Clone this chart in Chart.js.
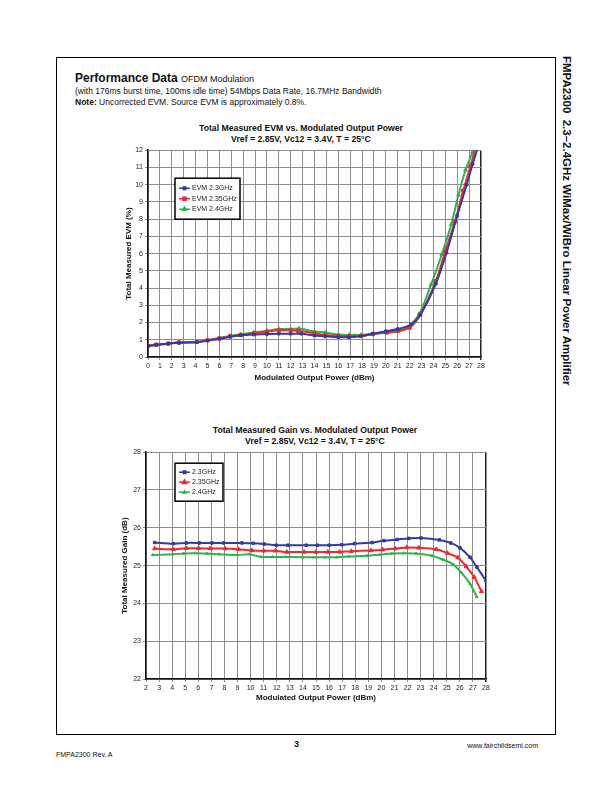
<!DOCTYPE html>
<html>
<head>
<meta charset="utf-8">
<script src="https://cdn.jsdelivr.net/npm/chart.js"></script>
<style>
    body { margin: 0; background: #fff; }
    #page { position: relative; width: 612px; height: 792px; background: #fff; font-family: 'Liberation Sans', Arial, sans-serif; color: #111; }
    .abs { position: absolute; white-space: nowrap; }
    #frame { position: absolute; left: 56px; top: 57px; width: 498px; height: 676px; border: 1px solid #000; }
    .ctitle { position: absolute; font-weight: bold; font-size: 8.7px; text-align: center; width: 300px; line-height: 11px; }
    #side { position: absolute; left: 561px; top: 56px; writing-mode: vertical-rl; font-weight: bold; font-size: 11.5px; white-space: nowrap; }
    canvas { position: absolute; }
</style>
</head>
<body>
<div id="page">
    <div id="frame"></div>
    <div class="abs" style="left:75px; top:71px; font-size:12px;"><b>Performance Data</b> <span style="font-size:9px;">OFDM Modulation</span></div>
    <div class="abs" style="left:75px; top:86px; font-size:8.5px;">(with 176ms burst time, 100ms idle time) 54Mbps Data Rate, 16.7MHz Bandwidth</div>
    <div class="abs" style="left:75px; top:97px; font-size:8.5px;"><b>Note:</b> Uncorrected EVM. Source EVM is approximately 0.8%.</div>

    <div class="ctitle" style="left:151px; top:123px;">Total Measured EVM vs. Modulated Output Power<br>Vref = 2.85V, Vc12 = 3.4V, T = 25°C</div>
    <canvas id="evmChart" width="371" height="243" style="left:120px; top:144px;"></canvas>

    <div class="ctitle" style="left:165px; top:425px;">Total Measured Gain vs. Modulated Output Power<br>Vref = 2.85V, Vc12 = 3.4V, T = 25°C</div>
    <canvas id="gainChart" width="380" height="261" style="left:116px; top:446px;"></canvas>

    <div id="side">FMPA2300&nbsp;&nbsp;2.3–2.4GHz WiMax/WiBro Linear Power Amplifier</div>

    <div class="abs" style="left:294px; top:739px; font-size:9px; font-weight:bold;">3</div>
    <div class="abs" style="left:56px; top:751px; font-size:7px;">FMPA2300 Rev. A</div>
    <div class="abs" style="right:74px; top:742px; font-size:7px;">www.fairchildsemi.com</div>
</div>

<script>
// EVM chart data
const evmPower23 = [0, 0.7, 1.7, 2.6, 4.1, 5.0, 6.0, 6.9, 7.8, 8.9, 10.0, 11.0, 12.0, 12.9, 14.0, 14.9, 16.0, 16.9, 17.9, 18.9, 20.0, 21.0, 22.1, 22.9, 24.2, 25.1, 26.0, 26.8, 27.3, 27.9];
const evm23      = [0.64, 0.7, 0.77, 0.82, 0.86, 0.95, 1.05, 1.17, 1.25, 1.3, 1.33, 1.35, 1.35, 1.35, 1.25, 1.2, 1.15, 1.15, 1.2, 1.35, 1.5, 1.62, 1.88, 2.45, 4.25, 6.05, 8.2, 10.0, 11.2, 12.5];
const evmPower235 = [0, 0.7, 1.7, 2.6, 4.1, 5.0, 6.0, 6.9, 7.8, 8.9, 10.0, 11.0, 12.0, 12.6, 14.0, 14.9, 16.0, 16.9, 17.9, 18.9, 20.1, 21.0, 22.0, 22.9, 24.2, 25.0, 25.8, 26.5, 27.1, 27.7];
const evm235      = [0.65, 0.72, 0.78, 0.85, 0.87, 0.97, 1.08, 1.2, 1.28, 1.38, 1.48, 1.55, 1.55, 1.52, 1.38, 1.28, 1.22, 1.2, 1.22, 1.33, 1.42, 1.52, 1.7, 2.45, 4.4, 6.15, 7.85, 9.65, 11.05, 12.5];
const evmPower24 = [0, 0.7, 1.7, 2.6, 4.1, 5.0, 6.0, 6.9, 7.8, 8.9, 10.0, 11.0, 12.0, 12.7, 14.0, 14.9, 16.0, 16.9, 17.9, 18.9, 20.0, 21.0, 21.8, 22.8, 23.8, 24.7, 25.5, 26.1, 26.7, 27.3, 27.6];
const evm24      = [0.68, 0.7, 0.77, 0.82, 0.88, 0.98, 1.1, 1.22, 1.32, 1.42, 1.52, 1.62, 1.62, 1.65, 1.48, 1.42, 1.3, 1.28, 1.28, 1.35, 1.4, 1.48, 1.72, 2.5, 4.2, 5.95, 7.7, 9.4, 10.85, 11.9, 12.5];

// Gain chart data
const gainPower23 = [2.66, 4.1, 5.08, 6.07, 7.04, 7.93, 9.33, 10.2, 11.04, 11.96, 12.85, 14.25, 15.1, 16.0, 16.97, 17.94, 19.3, 20.2, 21.2, 22.1, 23.03, 24.43, 25.3, 26.01, 26.78, 27.3, 28.0];
const gain23      = [25.61, 25.58, 25.6, 25.6, 25.6, 25.6, 25.6, 25.59, 25.57, 25.54, 25.54, 25.54, 25.54, 25.54, 25.55, 25.58, 25.61, 25.66, 25.69, 25.72, 25.73, 25.68, 25.6, 25.47, 25.22, 24.96, 24.6];
const gainPower235 = [2.66, 4.1, 5.08, 6.02, 6.9, 8.06, 9.08, 10.1, 11.0, 11.9, 12.77, 14.1, 15.0, 15.9, 16.8, 17.7, 19.2, 20.1, 21.05, 21.94, 22.86, 24.2, 25.05, 25.85, 26.48, 27.1, 27.65];
const gain235      = [25.45, 25.43, 25.46, 25.46, 25.45, 25.45, 25.43, 25.4, 25.39, 25.39, 25.36, 25.36, 25.36, 25.36, 25.36, 25.38, 25.4, 25.42, 25.45, 25.48, 25.47, 25.43, 25.33, 25.21, 24.98, 24.69, 24.32];
const gainPower24 = [2.5, 4.06, 4.88, 5.77, 6.66, 7.6, 9.0, 9.92, 10.8, 11.7, 12.65, 14.0, 14.8, 15.7, 16.6, 17.5, 18.9, 19.85, 20.8, 21.7, 22.65, 23.85, 24.7, 25.5, 26.1, 26.78, 27.3];
const gain24      = [25.28, 25.3, 25.32, 25.33, 25.32, 25.3, 25.28, 25.3, 25.23, 25.23, 25.23, 25.22, 25.22, 25.22, 25.22, 25.24, 25.26, 25.29, 25.32, 25.33, 25.32, 25.26, 25.16, 25.03, 24.82, 24.52, 24.17];

const evmLabels = ['EVM 2.3GHz', 'EVM 2.35GHz', 'EVM 2.4GHz'];
const gainLabels = ['2.3GHz', '2.35GHz', '2.4GHz'];

const BLUE = '#363c9c';
const RED = '#ec2a30';
const GREEN = '#2fb24f';
const FONT = "'Liberation Sans', Arial, sans-serif";

function toPoints(xs, ys) {
    return xs.map((x, i) => ({ x: x, y: ys[i] }));
}

function makeDataset(label, xs, ys, color, style, radius) {
    return {
        label: label,
        data: toPoints(xs, ys),
        borderColor: color,
        backgroundColor: color,
        borderWidth: 2,
        pointStyle: style,
        pointRadius: radius,
        pointBorderWidth: 1,
        tension: 0.3
    };
}

// legend box drawn inside the plot area, like the original
const boxLegend = {
    id: 'boxLegend',
    afterDraw(chart, args, opts) {
        const ctx = chart.ctx;
        const area = chart.chartArea;
        const x = area.left + opts.x;
        const y = area.top + opts.y;
        ctx.save();
        ctx.fillStyle = '#fff';
        ctx.fillRect(x, y, opts.w, opts.h);
        ctx.strokeStyle = '#000';
        ctx.lineWidth = 1.5;
        ctx.strokeRect(x, y, opts.w, opts.h);
        ctx.font = '7px ' + FONT;
        ctx.textBaseline = 'middle';
        chart.data.datasets.forEach((ds, i) => {
            const ly = y + opts.first + i * opts.step;
            ctx.strokeStyle = ds.borderColor;
            ctx.lineWidth = 1.5;
            ctx.beginPath();
            ctx.moveTo(x + 4, ly);
            ctx.lineTo(x + 4 + opts.lineLen, ly);
            ctx.stroke();
            ctx.fillStyle = ds.borderColor;
            if (Chart.helpers && Chart.helpers.drawPoint) {
                Chart.helpers.drawPoint(ctx, {
                    pointStyle: ds.pointStyle,
                    radius: ds.pointRadius,
                    borderWidth: 1
                }, x + 4 + opts.lineLen / 2, ly);
            }
            ctx.fillStyle = '#222';
            ctx.fillText(ds.label, x + 6 + opts.lineLen, ly);
        });
        ctx.restore();
    }
};

function makeOptions(xMin, xMax, yMin, yMax, yTitle, yWidth, xHeight, legend) {
    return {
        responsive: false,
        animation: false,
        devicePixelRatio: 1,
        layout: { padding: { top: 5, right: 10, left: 0, bottom: 0 } },
        plugins: {
            legend: { display: false },
            tooltip: { enabled: false },
            boxLegend: legend
        },
        scales: {
            x: {
                type: 'linear',
                min: xMin,
                max: xMax,
                ticks: { stepSize: 1, autoSkip: false, maxRotation: 0, minRotation: 0, color: '#222', padding: 2, font: { family: FONT, size: 7 } },
                grid: {
                    color: ctx => (ctx.tick && ctx.tick.value === xMax) ? '#222' : '#8c8c8c',
                    lineWidth: ctx => (ctx.tick && ctx.tick.value === xMax) ? 1.5 : 1,
                    tickLength: 3
                },
                border: { color: '#111', width: 1.5 },
                title: { display: true, text: 'Modulated Output Power (dBm)', color: '#111', font: { family: FONT, size: 8, weight: 'bold' }, padding: { top: 2, bottom: 4 } },
                afterFit: scale => { scale.height = xHeight; }
            },
            y: {
                min: yMin,
                max: yMax,
                ticks: { stepSize: 1, color: '#222', padding: 2, font: { family: FONT, size: 7 } },
                grid: { color: '#8c8c8c', lineWidth: 1, tickLength: 3 },
                border: { color: '#111', width: 1.5 },
                title: { display: true, text: yTitle, color: '#111', font: { family: FONT, size: 8, weight: 'bold' }, padding: { top: 4, bottom: 2 } },
                afterFit: scale => { scale.width = yWidth; }
            }
        }
    };
}

new Chart(document.getElementById('evmChart'), {
    type: 'line',
    data: {
        datasets: [
            makeDataset(evmLabels[0], evmPower23, evm23, BLUE, 'rect', 1.8),
            makeDataset(evmLabels[1], evmPower235, evm235, RED, 'rect', 2.2),
            makeDataset(evmLabels[2], evmPower24, evm24, GREEN, 'triangle', 2.2)
        ]
    },
    options: makeOptions(0, 28, 0, 12, 'Total Measured EVM (%)', 28, 30,
        { x: 27, y: 28, w: 65, h: 41, first: 10, step: 10.5, lineLen: 11 }),
    plugins: [boxLegend]
});

new Chart(document.getElementById('gainChart'), {
    type: 'line',
    data: {
        datasets: [
            makeDataset(gainLabels[0], gainPower23, gain23, BLUE, 'rect', 1.8),
            makeDataset(gainLabels[1], gainPower235, gain235, RED, 'triangle', 2.4),
            makeDataset(gainLabels[2], gainPower24, gain24, GREEN, 'triangle', 1.4)
        ]
    },
    options: makeOptions(2, 28, 22, 28, 'Total Measured Gain (dB)', 30, 28,
        { x: 29, y: 11, w: 48, h: 38, first: 9, step: 10, lineLen: 11 }),
    plugins: [boxLegend]
});
</script>
</body>
</html>
